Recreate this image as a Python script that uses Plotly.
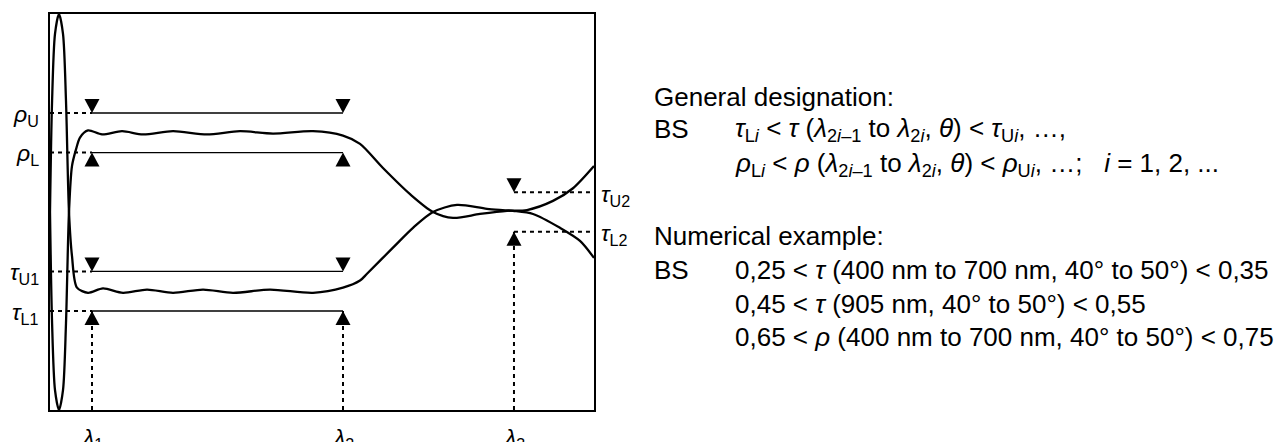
import plotly.graph_objects as go

# ---------------- data (schematic units: x 0..100, y 0..1) ----------------
rho_x = [0, 0.37, 0.92, 1.65, 2.39, 2.94, 3.49, 4.04, 4.78, 5.51, 6.99, 9.56, 13.24, 17.10,
         22.61, 28.86, 34.93, 40.99, 48.35, 53.86, 56.99, 61.21, 66.18, 70.40, 74.08,
         79.04, 84.01, 87.68, 92.46, 96.14, 100]
rho_y = [0.5, 0.226, 0.05, 0.0, 0.05, 0.219, 0.5, 0.616, 0.658, 0.688, 0.706, 0.696, 0.704, 0.696,
         0.704, 0.696, 0.704, 0.698, 0.704, 0.693, 0.672, 0.611, 0.545, 0.500, 0.485,
         0.495, 0.503, 0.505, 0.528, 0.560, 0.616]
tau_x = [0, 0.37, 0.92, 1.65, 2.39, 2.94, 3.49, 4.04, 4.96, 6.99, 9.74, 13.42, 17.83, 22.61,
         28.13, 33.64, 40.44, 48.35, 53.86, 56.99, 58.27, 63.05, 66.73, 70.40, 74.82,
         80.33, 85.11, 88.79, 93.75, 97.43, 100]
tau_y = [0.5, 0.774, 0.95, 1.0, 0.95, 0.781, 0.5, 0.389, 0.309, 0.296, 0.307, 0.296, 0.304, 0.296,
         0.304, 0.296, 0.304, 0.296, 0.309, 0.327, 0.344, 0.410, 0.460, 0.500, 0.518,
         0.508, 0.503, 0.495, 0.460, 0.427, 0.384]

lambda_labels = ["1", "2", "3"]
lambda_pos = [7.72, 53.86, 85.29]

left_labels = ["<i>ρ</i><sub>U</sub>", "<i>ρ</i><sub>L</sub>", "<i>τ</i><sub>U1</sub>", "<i>τ</i><sub>L1</sub>"]
left_levels = [0.75, 0.65, 0.35, 0.25]
left_is_upper = [True, False, True, False]

right_labels = ["<i>τ</i><sub>U2</sub>", "<i>τ</i><sub>L2</sub>"]
right_levels = [0.55, 0.45]
right_is_upper = [True, False]

text_lines = [
    "General designation:",
    "BS",
    "<i>τ</i><sub>L<i>i</i></sub> < <i>τ</i> (<i>λ</i><sub>2<i>i</i>–1</sub> to <i>λ</i><sub>2<i>i</i></sub>, <i>θ</i>) < <i>τ</i><sub>U<i>i</i></sub>, …,",
    "<i>ρ</i><sub>L<i>i</i></sub> < <i>ρ</i> (<i>λ</i><sub>2<i>i</i>–1</sub> to <i>λ</i><sub>2<i>i</i></sub>, <i>θ</i>) < <i>ρ</i><sub>U<i>i</i></sub>, …;   <i>i</i> = 1, 2, ...",
    "Numerical example:",
    "BS",
    "0,25 < <i>τ</i> (400 nm to 700 nm, 40° to 50°) < 0,35",
    "0,45 < <i>τ</i> (905 nm, 40° to 50°) < 0,55",
    "0,65 < <i>ρ</i> (400 nm to 700 nm, 40° to 50°) < 0,75",
]
# page-pixel positions of the text block (left x, centre y)
text_px = [(652, 95), (652, 128), (733, 128), (733, 163), (652, 235),
           (652, 269), (733, 269), (733, 303), (733, 337)]

# ---------------- layout geometry (page pixels; page body has an 8px margin) ----------------
OFF = 8
W, H = 1283 - OFF, 442 - OFF
PL, PR, PT, PB = 50, 594, 12, 410
FONT = "Liberation Sans, Arial, sans-serif"
TXT = 26


def paper_x(px):
    return (px - PL) / (PR - PL)


def paper_y(py):
    return (PB - py) / (PB - PT)


fig = go.Figure()

dot = dict(color="black", width=2, dash="4px,4px")
solid = dict(color="black", width=1.4)

for lv in left_levels:
    fig.add_trace(go.Scatter(x=[0, lambda_pos[0]], y=[lv, lv], mode="lines", line=dot,
                             hoverinfo="skip", showlegend=False))
    fig.add_trace(go.Scatter(x=[lambda_pos[0], lambda_pos[1]], y=[lv, lv], mode="lines",
                             line=solid, hoverinfo="skip", showlegend=False))
for lv in right_levels:
    fig.add_trace(go.Scatter(x=[lambda_pos[2], 100], y=[lv, lv], mode="lines", line=dot,
                             hoverinfo="skip", showlegend=False))
for xp, top in zip(lambda_pos, [left_levels[-1], left_levels[-1], right_levels[-1]]):
    fig.add_trace(go.Scatter(x=[xp, xp], y=[0, top], mode="lines", line=dot,
                             hoverinfo="skip", showlegend=False))

for cx, cy in [(rho_x, rho_y), (tau_x, tau_y)]:
    fig.add_trace(go.Scatter(x=cx, y=cy, mode="lines",
                             line=dict(color="black", width=2.3, shape="spline", smoothing=0.8),
                             hoverinfo="skip", showlegend=False))

# triangles (pixel-sized shapes anchored at data points)
TW, TH = 7.5, 14
down_path = f"M{-TW},{TH} L{TW},{TH} L0,0 Z"
up_path = f"M{-TW},{-TH} L{TW},{-TH} L0,0 Z"
tri_pts = []
for lv, up in zip(left_levels, left_is_upper):
    tri_pts.append((lambda_pos[0], lv, up))
    tri_pts.append((lambda_pos[1], lv, up))
for lv, up in zip(right_levels, right_is_upper):
    tri_pts.append((lambda_pos[2], lv, up))
shapes = [dict(type="path", xref="x", yref="y", xsizemode="pixel", ysizemode="pixel",
               xanchor=xa, yanchor=ya, path=down_path if up else up_path,
               fillcolor="black", line=dict(width=0), layer="above")
          for xa, ya, up in tri_pts]

annotations = []
for lab, lv in zip(left_labels, left_levels):
    annotations.append(dict(xref="paper", yref="y", x=0, y=lv, xanchor="right", yanchor="middle",
                            xshift=-9, yshift=-2, text=lab, showarrow=False,
                            font=dict(size=23, family=FONT, color="black")))
for lab, lv in zip(right_labels, right_levels):
    annotations.append(dict(xref="paper", yref="y", x=1, y=lv, xanchor="left", yanchor="middle",
                            xshift=5, yshift=-3, text=lab, showarrow=False,
                            font=dict(size=23, family=FONT, color="black")))
for lab, xp in zip(lambda_labels, lambda_pos):
    annotations.append(dict(xref="x", yref="paper", x=xp, y=0, xanchor="center", yanchor="top",
                            yshift=-12, text=f"<i>λ</i><sub>{lab}</sub>", showarrow=False,
                            font=dict(size=23, family=FONT, color="black")))
for txt, (px, py) in zip(text_lines, text_px):
    annotations.append(dict(xref="paper", yref="paper", x=paper_x(px), y=paper_y(py),
                            xanchor="left", yanchor="middle", text=txt, showarrow=False,
                            font=dict(size=TXT, family=FONT, color="black")))

axis_common = dict(showgrid=False, zeroline=False, showticklabels=False, ticks="",
                   showline=True, linecolor="black", linewidth=1.7, mirror=True, fixedrange=True)
fig.update_layout(
    width=W, height=H,
    margin=dict(l=PL - OFF, r=W - (PR - OFF), t=PT - OFF, b=H - (PB - OFF), pad=0),
    paper_bgcolor="white", plot_bgcolor="white",
    xaxis=dict(range=[0, 100], **axis_common),
    yaxis=dict(range=[0, 1], **axis_common),
    shapes=shapes, annotations=annotations, showlegend=False,
)
fig.write_html("out.html")
